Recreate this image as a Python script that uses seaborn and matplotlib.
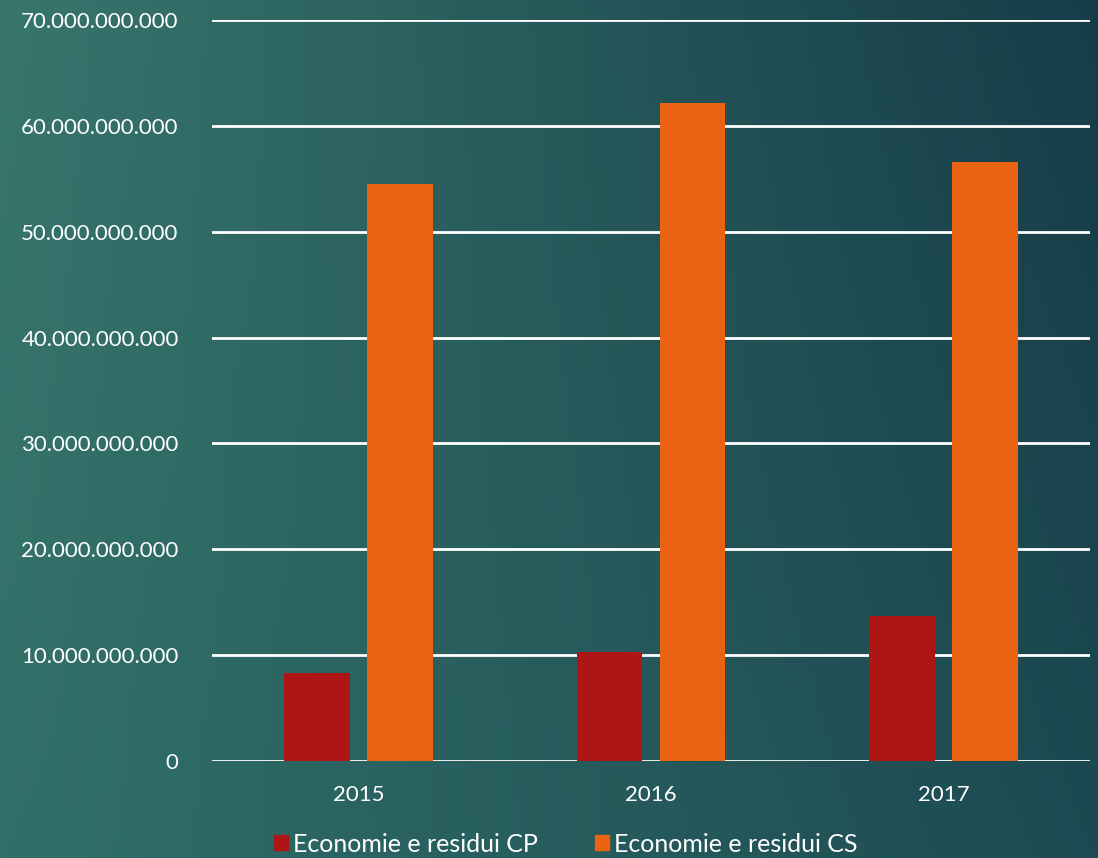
import matplotlib
matplotlib.use('Agg')
import matplotlib.pyplot as plt
import matplotlib.ticker as mticker
import numpy as np
import pandas as pd
import seaborn as sns

years = ['2015', '2016', '2017']
series = ['Economie e residui CP', 'Economie e residui CS']
cp_values = [8.3e9, 10.3e9, 13.7e9]
cs_values = [54.5e9, 62.2e9, 56.6e9]
colors = ['#ae1515', '#e96313']

df = pd.DataFrame({
    'anno': years * 2,
    'serie': [series[0]] * 3 + [series[1]] * 3,
    'valore': cp_values + cs_values,
})

sns.set_style('white')
plt.rcParams['font.family'] = ['Lato', 'DejaVu Sans']

fig = plt.figure(figsize=(10.98, 8.58), dpi=100)

# sfondo sfumato (angoli: alto-sx, alto-dx, basso-sx, basso-dx)
tl = np.array([0x38, 0x76, 0x6d]) / 255
tr = np.array([0x16, 0x3c, 0x48]) / 255
bl = np.array([0x31, 0x70, 0x69]) / 255
br = np.array([0x1d, 0x4a, 0x52]) / 255
gx, gy = np.meshgrid(np.linspace(0, 1, 300), np.linspace(0, 1, 240))
gx = gx[..., None]
gy = gy[..., None]
grad = (1 - gx) * (1 - gy) * tl + gx * (1 - gy) * tr + (1 - gx) * gy * bl + gx * gy * br
bg = fig.add_axes([0, 0, 1, 1], zorder=-1)
bg.imshow(grad, aspect='auto', extent=[0, 1, 0, 1])
bg.axis('off')

ax = fig.add_axes([212 / 1098, 1 - 761 / 858, (1090 - 212) / 1098, (761 - 20) / 858])
ax.set_facecolor('none')

sns.barplot(data=df, x='anno', y='valore', hue='serie', palette=colors,
            width=0.568, gap=0.21, saturation=1, ax=ax, zorder=3, legend=False,
            edgecolor='none', linewidth=0)

ax.set_ylim(0, 70e9)
ax.set_xlim(-0.5, 2.5)
ax.yaxis.set_major_locator(mticker.MultipleLocator(10e9))
ax.yaxis.set_major_formatter(mticker.FuncFormatter(lambda v, p: f"{int(round(v)):,}".replace(',', '.')))
ax.grid(axis='y', color='white', linewidth=2, zorder=1)
ax.set_axisbelow(True)
for s in ax.spines.values():
    s.set_visible(False)
ax.tick_params(axis='both', length=0, colors='white')
ax.tick_params(axis='y', pad=24, labelsize=16)
ax.tick_params(axis='x', pad=17, labelsize=16)
ax.set_xlabel('')
ax.set_ylabel('')

handles = [plt.Rectangle((0, 0), 1, 1, color=c) for c in colors]
fig.legend(handles, series, loc='center', bbox_to_anchor=(566 / 1098, 1 - 844 / 858), ncol=2,
           frameon=False, fontsize=18, labelcolor='white', handlelength=0.55, handleheight=0.55,
           handletextpad=0.2, columnspacing=2.3, borderpad=0, borderaxespad=0)

fig.savefig('out.png', dpi=100)
